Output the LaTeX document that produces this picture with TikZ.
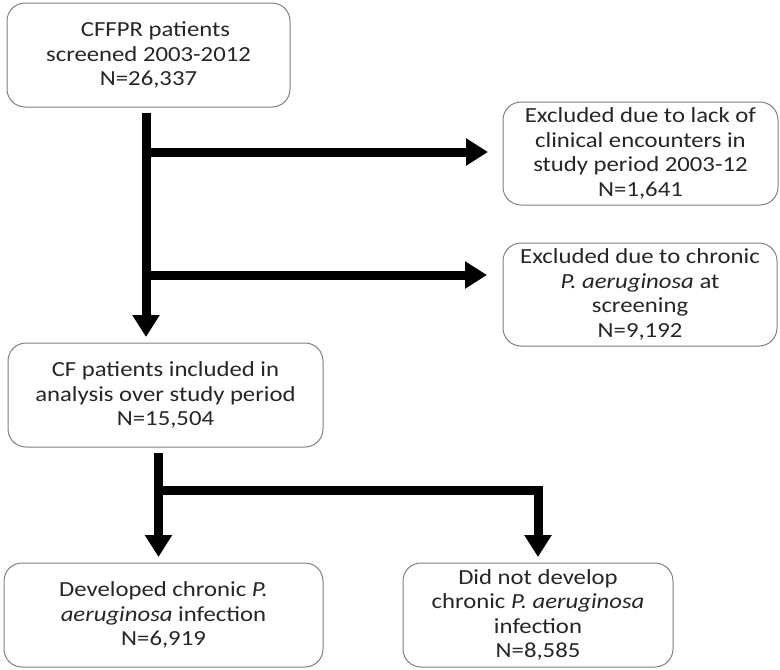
\documentclass[tikz,border=0pt]{standalone}
\usepackage{fontspec}
\setmainfont{Carlito}[FakeStretch=1.15]
\usetikzlibrary{arrows.meta}
\tikzset{
  box/.style={draw=black!50, line width=1pt, rounded corners=18pt, fill=white,
    align=center, inner sep=2pt,
    font=\fontsize{21.5}{24.5}\selectfont, text=black!85},
  flow/.style={line width=9pt, black, line join=miter,
    -{Triangle[width=26pt,length=22pt]}}
}
\begin{document}
\begin{tikzpicture}[x=1pt,y=-1pt]
\useasboundingbox (0,0) rectangle (780,670);
\fill[white] (0,0) rectangle (780,670);

\node[box, minimum width=283pt, minimum height=104pt] (b1) at (148.5,55)
  {\hspace*{14pt}CFFPR patients\\screened 2003-2012\\N=26,337};
\node[box, minimum width=275pt, minimum height=103pt] (b2) at (640.5,153.5)
  {Excluded due to lack of\\clinical encounters in\\study period 2003-12\\N=1,641};
\node[box, minimum width=274pt, minimum height=103pt] (b3) at (640,294.5)
  {Excluded due to chronic\\\textit{P. aeruginosa} at\\screening\\N=9,192};
\node[box, minimum width=315pt, minimum height=104pt] (b4) at (165.5,395)
  {CF patients included in\\analysis over study period\\N=15,504};
\node[box, minimum width=319pt, minimum height=104pt] (b5) at (163.5,615)
  {Developed chronic \textit{P.}\\\textit{aeruginosa} infection\\N=6,919};
\node[box, minimum width=270pt, minimum height=104pt] (b6) at (538,615)
  {Did not develop\\chronic \textit{P. aeruginosa}\\infection\\N=8,585};

% upper connectors
\coordinate (t1s) at (146,113);
\coordinate (t1e) at (146,337);
\coordinate (j1) at (146,152);
\coordinate (j1e) at (488,152);
\coordinate (j2) at (146,275);
\coordinate (j2e) at (487,275);
\draw[flow] (t1s) -- (t1e);
\draw[flow] (j1) -- (j1e);
\draw[flow] (j2) -- (j2e);

% lower connectors
\coordinate (t2s) at (158.5,453);
\coordinate (t2e) at (158.5,557);
\coordinate (j3) at (158.5,490);
\coordinate (j3e) at (538,557);
\draw[flow] (t2s) -- (t2e);
\draw[flow] (j3) -| (j3e);
\end{tikzpicture}
\end{document}
